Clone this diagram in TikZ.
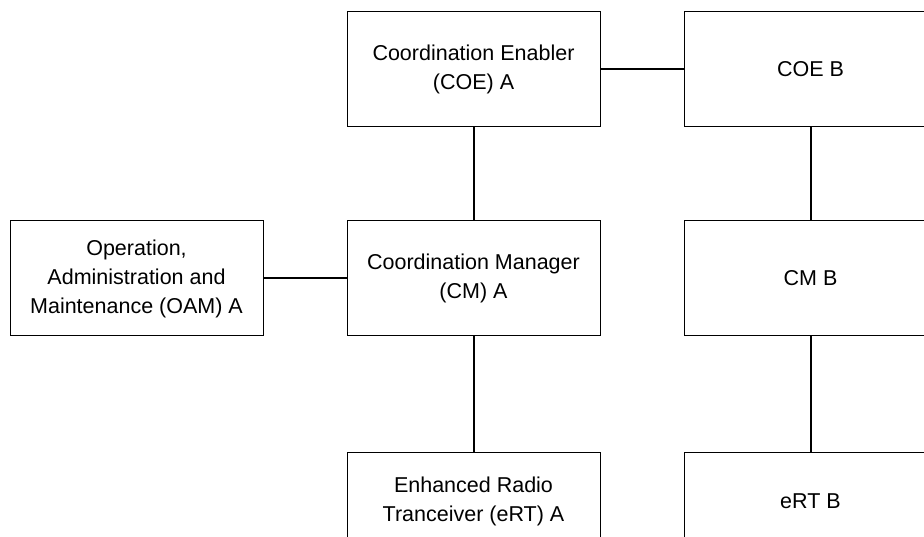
\documentclass[tikz,border=0pt]{standalone}
\usepackage{fontspec}
\setmainfont{Liberation Sans}
\begin{document}
\begin{tikzpicture}[x=1pt,y=-1pt,
  unit/.style={draw=black, line width=1pt, fill=white, minimum width=253pt,
    minimum height=115pt, align=center, inner sep=0pt,
    font=\fontsize{21.5}{29}\selectfont},
  lowunit/.style={unit, minimum height=98pt},
  link/.style={line width=2pt, black}]
  \useasboundingbox (0,0) rectangle (924,537);
  \clip (0,0) rectangle (924,537);
  % protocol stack of side A
  \node[unit] (coeA) at (473.5,69.5) {Coordination Enabler\\(COE) A};
  \node[unit] (cmA)  at (473.5,278.5) {Coordination Manager\\(CM) A};
  \node[unit] (oamA) at (136.5,278.5) {Operation,\\Administration and\\Maintenance (OAM) A};
  \node[lowunit] (ertA) at (473.5,501) {Enhanced Radio\\Tranceiver (eRT) A};
  % protocol stack of side B
  \node[unit] (coeB) at (810.5,69.5) {COE B};
  \node[unit] (cmB)  at (810.5,278.5) {CM B};
  \node[lowunit] (ertB) at (810.5,501) {eRT B};
  % interfaces
  \draw[link] (coeA.east) -- (coeB.west);
  \draw[link] (coeA.south) -- (cmA.north);
  \draw[link] (oamA.east) -- (cmA.west);
  \draw[link] (cmA.south) -- (ertA.north);
  \draw[link] (coeB.south) -- (cmB.north);
  \draw[link] (cmB.south) -- (ertB.north);
\end{tikzpicture}
\end{document}
